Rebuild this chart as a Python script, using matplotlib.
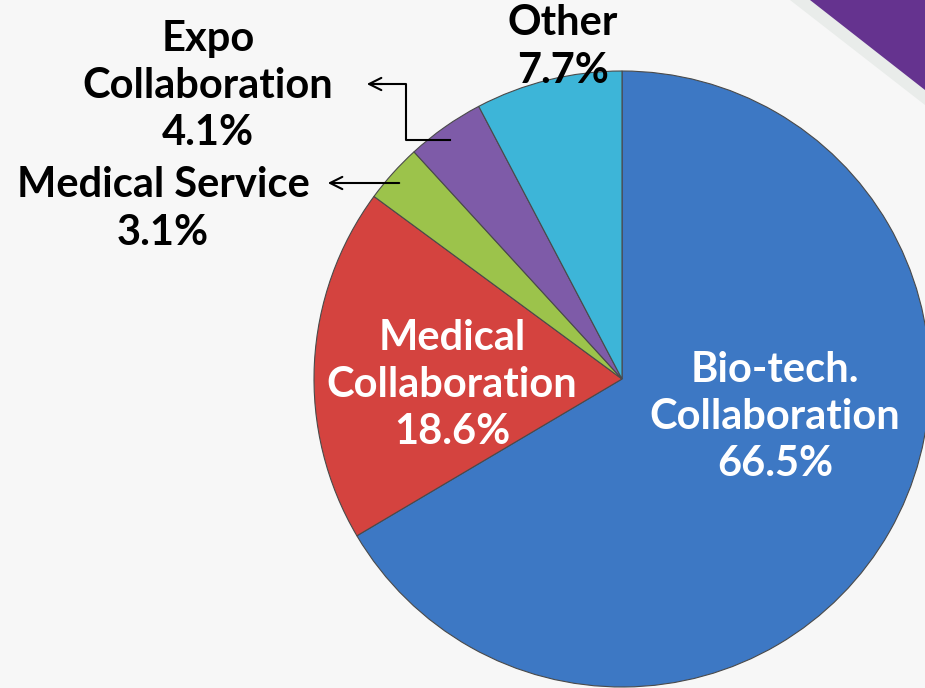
import matplotlib.pyplot as plt
from matplotlib.patches import Polygon

plt.rcParams['font.family'] = ['Lato', 'DejaVu Sans']

# Data
categories = ['Bio-tech.\nCollaboration', 'Medical\nCollaboration', 'Medical Service',
              'Expo\nCollaboration', 'Other']
shares = [66.5, 18.6, 3.1, 4.1, 7.7]
colors = ['#3D78C4', '#D4433F', '#9CC34B', '#7E5BA8', '#3DB5D8']

W, H = 925, 688
fig = plt.figure(figsize=(W / 100, H / 100), dpi=100)
fig.patch.set_facecolor('#F7F7F7')
ax = fig.add_axes([0, 0, 1, 1])

# background decoration: purple corner with a light band
ax.add_patch(Polygon([[790, H], [W, H], [W, H - 105]], closed=True,
                     facecolor='#E9ECEA', edgecolor='none', zorder=0))
ax.add_patch(Polygon([[810, H], [W, H], [W, H - 90]], closed=True,
                     facecolor='#65338F', edgecolor='none', zorder=0))

cx, cy, r = 622, H - 379, 308
wedges, _ = ax.pie(shares, colors=colors, startangle=90, counterclock=False,
                   center=(cx, cy), radius=r, frame=True,
                   wedgeprops=dict(edgecolor='#4a4a4a', linewidth=0.8))
ax.set_xlim(0, W)
ax.set_ylim(0, H)
ax.set_aspect('equal')
ax.axis('off')

fs = 30
lsp = 1.3
# labels inside slices
ax.text(775, H - 417, f'{categories[0]}\n{shares[0]}%', color='white', fontsize=fs,
        fontweight='bold', ha='center', va='center', linespacing=lsp)
ax.text(452, H - 385, f'{categories[1]}\n{shares[1]}%', color='white', fontsize=fs,
        fontweight='bold', ha='center', va='center', linespacing=lsp)
# outside labels
ax.text(563, H - 47, f'{categories[4]}\n{shares[4]}%', color='black', fontsize=fs,
        fontweight='bold', ha='center', va='center', linespacing=lsp)
ax.text(208, H - 86, f'{categories[3]}\n{shares[3]}%', color='black', fontsize=fs,
        fontweight='bold', ha='center', va='center', linespacing=lsp)
ax.text(163, H - 209, f'{categories[2]}\n{shares[2]}%', color='black', fontsize=fs,
        fontweight='bold', ha='center', va='center', linespacing=lsp)

# leader arrows
arrow = dict(arrowstyle='->', color='black', lw=1.5, mutation_scale=22)
ax.plot([450, 406, 406, 372], [H - 140, H - 140, H - 84, H - 84], color='black', lw=1.5)
ax.annotate('', xy=(364, H - 84), xytext=(385, H - 84), arrowprops=arrow)
ax.annotate('', xy=(325, H - 183), xytext=(402, H - 183), arrowprops=arrow)

fig.savefig('out.png', dpi=100, facecolor=fig.get_facecolor())
